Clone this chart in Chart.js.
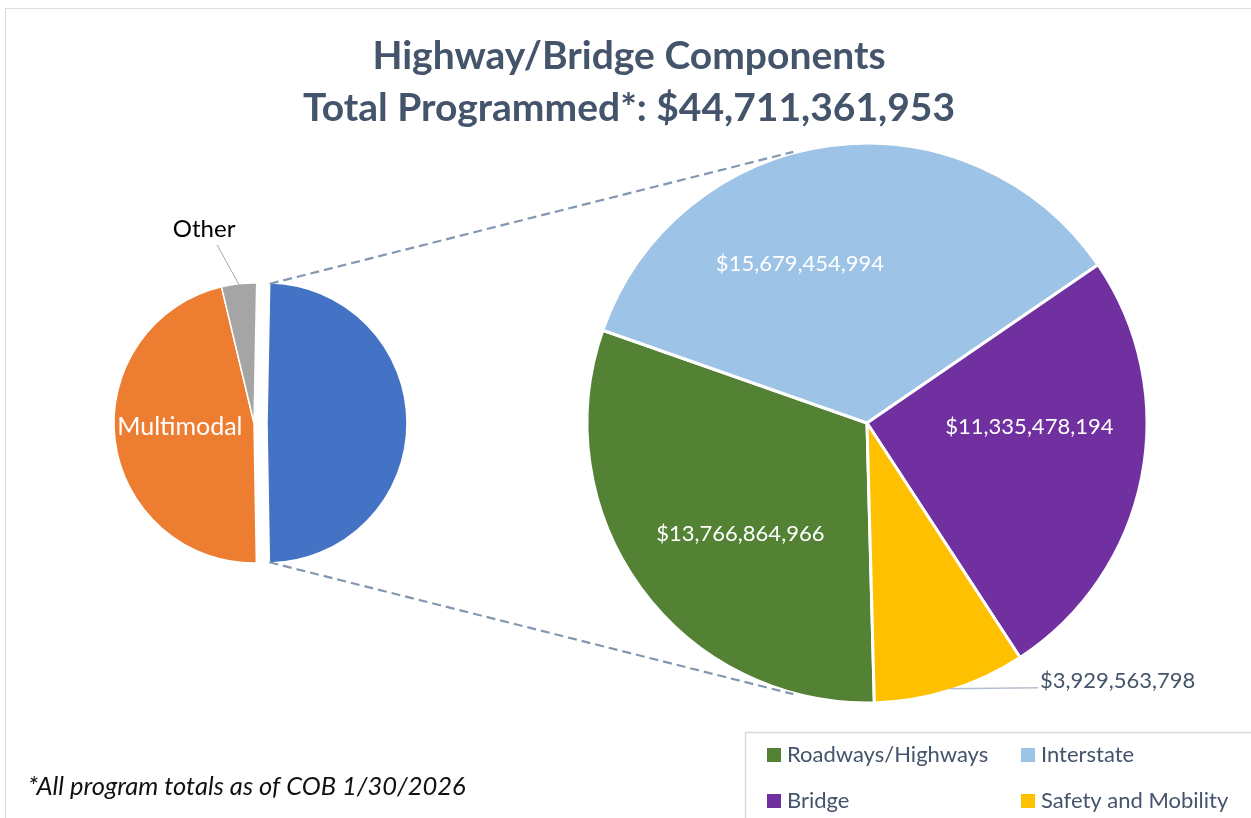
<!DOCTYPE html>
<html><head><meta charset="utf-8">
<script src="https://cdn.jsdelivr.net/npm/chart.js@4.4.1/dist/chart.umd.min.js"></script>
<style>
html,body{margin:0;padding:0;background:#fff;overflow:hidden;}
#wrap{position:relative;width:1251px;height:818px;overflow:hidden;background:#fff;}
#frame{position:absolute;left:5px;top:8px;width:1400px;height:1000px;border:1.5px solid #D9DEE6;box-sizing:border-box;}
canvas{position:absolute;left:0;top:0;}
</style></head><body>
<div id="wrap"><div id="frame"></div>
<canvas id="leftPie" width="1251" height="818"></canvas>
<canvas id="rightPie" width="1251" height="818"></canvas>
</div>
<script>
// ---- data ----
const titleLines = ['Highway/Bridge Components', 'Total Programmed*: $44,711,361,953'];
const footnote = '*All program totals as of COB 1/30/2026';
const primaryLabels = ['Highway/Bridge', 'Multimodal', 'Other'];
const primaryValues = [44711361953, 42100000000, 3650000000];
const primaryColors = ['#4472C4', '#ED7D31', '#A5A5A5'];
const secondaryLabels = ['Roadways/Highways', 'Interstate', 'Bridge', 'Safety and Mobility'];
const secondaryValues = [13766864966, 15679454994, 11335478194, 3929563798];
const secondaryColors = ['#548235', '#9DC3E6', '#7030A0', '#FFC000'];

// ---- style ----
const FONT = 'Lato, "Open Sans", sans-serif';
const SLATE = '#44546A';
const DEG = Math.PI / 180;
const EXPLODE = 13;
const fmt = v => '$' + v.toLocaleString('en-US');

function midAngle(a) { return (a.startAngle + a.endAngle) / 2; }

// shift the split-off slice (primary index 0) outward along its mid angle
const explodePlugin = {
  id: 'explode',
  afterUpdate(chart) {
    const arc = chart.getDatasetMeta(0).data[0];
    const m = midAngle(arc);
    arc.x += Math.cos(m) * EXPLODE;
    arc.y += Math.sin(m) * EXPLODE;
  }
};

const leftLabels = {
  id: 'leftLabels',
  afterDatasetsDraw(chart) {
    const ctx = chart.ctx;
    const arcs = chart.getDatasetMeta(0).data;
    ctx.save();
    // Multimodal label inside
    const mm = arcs[1];
    const am = midAngle(mm) + 5 * DEG, rm = mm.outerRadius * 0.53;
    ctx.font = '25px ' + FONT;
    ctx.fillStyle = '#FFFFFF';
    ctx.textAlign = 'center';
    ctx.textBaseline = 'alphabetic';
    ctx.fillText(primaryLabels[1], mm.x + Math.cos(am) * rm, mm.y + Math.sin(am) * rm + 9);
    // Other label outside with leader
    const ot = arcs[2];
    const ao = midAngle(ot);
    const px = ot.x + Math.cos(ao) * (ot.outerRadius - 1);
    const py = ot.y + Math.sin(ao) * (ot.outerRadius - 1);
    const ex = px - 22, ey = py - 40;
    ctx.strokeStyle = '#A6A6A6';
    ctx.lineWidth = 1;
    ctx.beginPath(); ctx.moveTo(px, py); ctx.lineTo(ex, ey); ctx.stroke();
    ctx.fillStyle = '#000000';
    ctx.font = '24px ' + FONT;
    ctx.fillText(primaryLabels[2], ex - 13, ey - 8);
    ctx.restore();
  }
};

const leftChart = new Chart(document.getElementById('leftPie'), {
  type: 'pie',
  data: {
    labels: primaryLabels,
    datasets: [{
      data: primaryValues,
      backgroundColor: primaryColors,
      borderColor: '#FFFFFF',
      borderWidth: 1.5,
      hoverOffset: 0
    }]
  },
  options: {
    responsive: false,
    animation: false,
    events: [],
    rotation: 1.1,
    radius: 140,
    layout: { padding: { left: 0, right: 743, top: 28, bottom: 0 } },
    plugins: { legend: { display: false }, tooltip: { enabled: false } }
  },
  plugins: [explodePlugin, leftLabels]
});

// secondary label placement relative to each slice's mid angle
const labelPlacement = [
  { da: -5, rf: 0.60 },
  { da: -15.2, rf: 0.62 },
  { da: -10.2, rf: 0.58 },
  null
];

const overlay = {
  id: 'overlay',
  afterDatasetsDraw(chart) {
    const ctx = chart.ctx;
    // dashed connector lines from split slice to secondary pie
    const blue = leftChart.getDatasetMeta(0).data[0];
    const r1 = blue.outerRadius - 0.75;
    const any = chart.getDatasetMeta(0).data[0];
    const r2 = any.outerRadius + 1;
    const pts = [
      [blue.x + Math.cos(blue.startAngle) * r1, blue.y + Math.sin(blue.startAngle) * r1, -(90 + 15.2) * DEG],
      [blue.x + Math.cos(blue.endAngle) * r1, blue.y + Math.sin(blue.endAngle) * r1, (90 + 15.2) * DEG]
    ];
    ctx.save();
    ctx.strokeStyle = '#8497B0';
    ctx.lineWidth = 2.2;
    ctx.setLineDash([9, 5]);
    pts.forEach(p => {
      ctx.beginPath();
      ctx.moveTo(p[0], p[1]);
      ctx.lineTo(any.x + Math.cos(p[2]) * r2, any.y + Math.sin(p[2]) * r2);
      ctx.stroke();
    });
    ctx.restore();
  },
  afterDraw(chart) {
    const ctx = chart.ctx;
    const arcs = chart.getDatasetMeta(0).data;
    ctx.save();
    // title
    ctx.fillStyle = SLATE;
    ctx.textAlign = 'center';
    ctx.textBaseline = 'alphabetic';
    ctx.font = 'bold 39px ' + FONT;
    ctx.fillText(titleLines[0], 629, 69);
    ctx.fillText(titleLines[1], 629, 121);
    // data labels
    ctx.font = '22px ' + FONT;
    arcs.forEach((arc, i) => {
      const pl = labelPlacement[i];
      if (!pl) return;
      const a = midAngle(arc) + pl.da * DEG, r = arc.outerRadius * pl.rf;
      ctx.fillStyle = '#FFFFFF';
      ctx.textAlign = 'center';
      ctx.fillText(fmt(secondaryValues[i]), arc.x + Math.cos(a) * r, arc.y + Math.sin(a) * r + 8);
    });
    // Safety label outside with leader
    const s = arcs[3];
    const as = midAngle(s);
    const sx = s.x + Math.cos(as) * (s.outerRadius - 1.5);
    const sy = s.y + Math.sin(as) * (s.outerRadius - 1.5);
    ctx.strokeStyle = '#B4C0CE';
    ctx.lineWidth = 1.5;
    ctx.beginPath(); ctx.moveTo(sx, sy); ctx.lineTo(sx + 88, sy - 1); ctx.stroke();
    ctx.fillStyle = SLATE;
    ctx.textAlign = 'left';
    ctx.fillText(fmt(secondaryValues[3]), sx + 90, sy - 1);
    // legend box
    ctx.strokeStyle = '#D9D9D9';
    ctx.lineWidth = 1.5;
    ctx.strokeRect(745.5, 732.5, 700, 300);
    ctx.font = '22px ' + FONT;
    secondaryLabels.forEach((lab, i) => {
      const col = i % 2, row = Math.floor(i / 2);
      const x = 767 + col * 254, y = 748 + row * 46;
      ctx.fillStyle = secondaryColors[i];
      ctx.fillRect(x, y, 14, 14);
      ctx.fillStyle = SLATE;
      ctx.textAlign = 'left';
      ctx.fillText(lab, x + 20, y + 14);
    });
    // footnote
    ctx.fillStyle = '#111111';
    ctx.font = 'italic 25.5px ' + FONT;
    ctx.fillText(footnote, 28, 795);
    ctx.restore();
  }
};

const rightChart = new Chart(document.getElementById('rightPie'), {
  type: 'pie',
  data: {
    labels: secondaryLabels,
    datasets: [{
      data: secondaryValues,
      backgroundColor: secondaryColors,
      borderColor: '#FFFFFF',
      borderWidth: 3,
      hoverOffset: 0
    }]
  },
  options: {
    responsive: false,
    animation: false,
    events: [],
    rotation: 178.5,
    radius: 280,
    layout: { padding: { left: 483, right: 0, top: 28, bottom: 0 } },
    plugins: { legend: { display: false }, tooltip: { enabled: false } }
  },
  plugins: [overlay]
});
</script>
</body></html>
